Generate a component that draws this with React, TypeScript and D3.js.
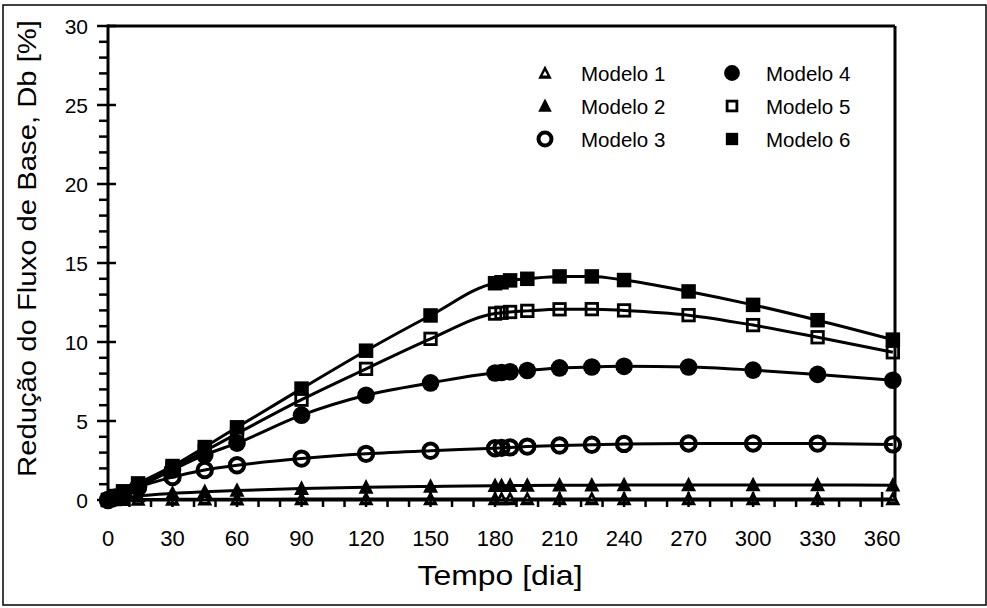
import React from 'react';
import * as d3 from 'd3';

// tempo em dias
const days = [0, 3, 7, 14, 30, 45, 60, 90, 120, 150, 180, 183, 187, 195, 210, 225, 240, 270, 300, 330, 365];

const modelo1 = [0, 0.01, 0.02, 0.03, 0.04, 0.05, 0.05, 0.06, 0.06, 0.06, 0.07, 0.07, 0.07, 0.07, 0.07, 0.07, 0.07, 0.07, 0.07, 0.07, 0.07];
const modelo2 = [0, 0.05, 0.12, 0.25, 0.42, 0.52, 0.6, 0.72, 0.8, 0.86, 0.9, 0.9, 0.91, 0.92, 0.93, 0.94, 0.95, 0.95, 0.95, 0.95, 0.94];
const modelo3 = [0, 0.15, 0.4, 0.8, 1.45, 1.9, 2.2, 2.62, 2.92, 3.12, 3.28, 3.3, 3.33, 3.38, 3.45, 3.5, 3.55, 3.58, 3.58, 3.57, 3.52];
const modelo4 = [0, 0.15, 0.35, 0.8, 1.9, 2.85, 3.6, 5.37, 6.63, 7.41, 8.04, 8.07, 8.12, 8.2, 8.36, 8.42, 8.46, 8.42, 8.22, 7.95, 7.58];
const modelo5 = [0, 0.2, 0.45, 0.9, 2.0, 3.1, 4.2, 6.35, 8.3, 10.2, 11.8, 11.85, 11.9, 11.97, 12.07, 12.08, 12.0, 11.7, 11.07, 10.3, 9.35];
const modelo6 = [0, 0.25, 0.55, 1.05, 2.15, 3.35, 4.6, 7.05, 9.45, 11.68, 13.72, 13.78, 13.9, 14.0, 14.15, 14.15, 13.92, 13.2, 12.35, 11.38, 10.15];

const xTicks = [0, 30, 60, 90, 120, 150, 180, 210, 240, 270, 300, 330, 360];
const yTicks = [0, 5, 10, 15, 20, 25, 30];

type Shape = 'triHollow' | 'tri' | 'circHollow' | 'circ' | 'sqHollow' | 'sq';

const series: { name: string; values: number[]; shape: Shape }[] = [
  { name: 'Modelo 1', values: modelo1, shape: 'triHollow' },
  { name: 'Modelo 2', values: modelo2, shape: 'tri' },
  { name: 'Modelo 3', values: modelo3, shape: 'circHollow' },
  { name: 'Modelo 4', values: modelo4, shape: 'circ' },
  { name: 'Modelo 5', values: modelo5, shape: 'sqHollow' },
  { name: 'Modelo 6', values: modelo6, shape: 'sq' },
];

const W = 987;
const H = 608;
const left = 108, right = 895, top = 26, bottom = 500;
const font = '"Liberation Sans", Arial, sans-serif';

const x = d3.scaleLinear().domain([0, 366]).range([left, right]);
const y = d3.scaleLinear().domain([0, 30]).range([bottom, top]);

function Marker({ shape, cx, cy, k = 1 }: { shape: Shape; cx: number; cy: number; k?: number }) {
  const t = `translate(${cx},${cy})`;
  if (shape === 'tri' || shape === 'triHollow') {
    const s = 15 * k;
    const outer = `M0,${-s * 0.55}L${s / 2},${s * 0.42}L${-s / 2},${s * 0.42}Z`;
    const si = s * 0.36;
    const inner = `M0,${-si * 0.4}L${si / 2},${si * 0.5}L${-si / 2},${si * 0.5}Z`;
    return (
      <g transform={t}>
        <path d={outer} fill="#000" />
        {shape === 'triHollow' && <path d={inner} fill="#fff" />}
      </g>
    );
  }
  if (shape === 'circ') return <circle cx={cx} cy={cy} r={8.8 * k} fill="#000" />;
  if (shape === 'circHollow')
    return <circle cx={cx} cy={cy} r={7.2 * k} fill="none" stroke="#000" strokeWidth={4} />;
  if (shape === 'sq') {
    const s = 14.5 * k;
    return <rect x={cx - s / 2} y={cy - s / 2} width={s} height={s} fill="#000" />;
  }
  const s = 11.5 * k;
  return <rect x={cx - s / 2} y={cy - s / 2} width={s} height={s} fill="none" stroke="#000" strokeWidth={2.8} />;
}

export default function App() {
  const line = d3
    .line<number>()
    .x((_, i) => x(days[i]))
    .y((v) => y(v))
    .curve(d3.curveMonotoneX);

  const minorX = d3.range(10, 366, 10).filter((d) => d % 30 !== 0);
  const minorY = d3.range(1, 30, 1).filter((d) => d % 5 !== 0);

  const legendRows = [73, 106, 139];
  const legendCols = [{ m: 545, t: 581 }, { m: 732, t: 766 }];

  return (
    <svg width={W} height={H} style={{ position: 'absolute', left: 0, top: 0, background: '#fff' }}>
      <rect x={3} y={5} width={983} height={600} fill="#fff" stroke="#000" strokeWidth={1.5} />

      {/* linhas das séries */}
      {series.map((s) => (
        <path key={s.name} d={line(s.values) || ''} fill="none" stroke="#000" strokeWidth={3} />
      ))}
      {series.map((s) =>
        s.values.map((v, i) => <Marker key={s.name + i} shape={s.shape} cx={x(days[i])} cy={y(v)} />)
      )}

      {/* moldura e eixos */}
      <line x1={left} x2={right} y1={top} y2={top} stroke="#000" strokeWidth={3} />
      <line x1={right} x2={right} y1={top} y2={bottom} stroke="#000" strokeWidth={3} />
      <line x1={left} x2={left} y1={top - 1.5} y2={bottom + 1.5} stroke="#000" strokeWidth={3} />
      <line x1={left - 1.5} x2={right + 1.5} y1={bottom} y2={bottom} stroke="#000" strokeWidth={3} />

      {minorX.map((d) => (
        <line key={'mx' + d} x1={x(d)} x2={x(d)} y1={bottom} y2={bottom + 7} stroke="#000" strokeWidth={2.5} />
      ))}
      {xTicks.map((d) => (
        <line key={'tx' + d} x1={x(d)} x2={x(d)} y1={bottom - 8} y2={bottom + 7} stroke="#000" strokeWidth={2.5} />
      ))}
      {minorY.map((d) => (
        <line key={'my' + d} x1={left - 9} x2={left} y1={y(d)} y2={y(d)} stroke="#000" strokeWidth={2.5} />
      ))}
      {yTicks.map((d) => (
        <line key={'ty' + d} x1={left - 11} x2={left + 8} y1={y(d)} y2={y(d)} stroke="#000" strokeWidth={2.5} />
      ))}

      {xTicks.map((d) => (
        <text key={'lx' + d} x={x(d)} y={546} textAnchor="middle" fontFamily={font} fontSize={22}>
          {d}
        </text>
      ))}
      {yTicks.map((d) => (
        <text key={'ly' + d} x={88} y={y(d) + 7.5} textAnchor="end" fontFamily={font} fontSize={21}>
          {d}
        </text>
      ))}

      <text x={500} y={585} textAnchor="middle" fontFamily={font} fontSize={28} textLength={165} lengthAdjust="spacingAndGlyphs">
        Tempo [dia]
      </text>
      <text
        transform={`translate(36,${248.5}) rotate(-90)`}
        textAnchor="middle"
        fontFamily={font}
        fontSize={25}
        textLength={457}
        lengthAdjust="spacingAndGlyphs"
      >
        Redução do Fluxo de Base, Db [%]
      </text>

      {/* legenda */}
      {series.map((s, i) => {
        const col = legendCols[Math.floor(i / 3)];
        const ry = legendRows[i % 3];
        return (
          <g key={'lg' + s.name}>
            <Marker shape={s.shape} cx={col.m} cy={ry} k={s.shape.startsWith('sq') ? 0.85 : 0.9} />
            <text x={col.t} y={ry + 7.5} fontFamily={font} fontSize={20.5}>
              {s.name}
            </text>
          </g>
        );
      })}
    </svg>
  );
}
